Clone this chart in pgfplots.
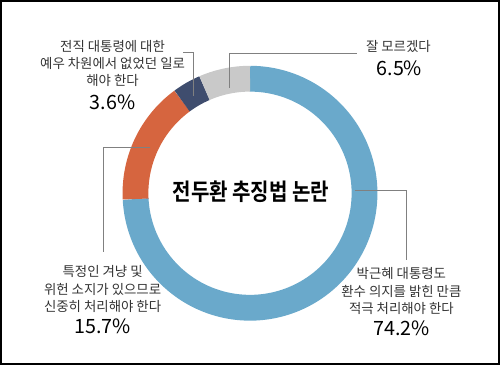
\documentclass[border=0pt]{standalone}
\usepackage{pgfplots}
\pgfplotsset{compat=1.18}
\usepackage{graphicx}
\usepackage{fontspec}
\setmainfont{Noto Sans CJK KR}[BoldFont={Noto Sans CJK KR Bold}]
\definecolor{cblue}{HTML}{6AA9CB}
\definecolor{cred}{HTML}{D6653F}
\definecolor{cnavy}{HTML}{3F4D6E}
\definecolor{cgray}{HTML}{C9C9C9}
\definecolor{lead}{HTML}{808080}
\definecolor{txt}{HTML}{333333}
% data (percent)
\def\vA{74.2}\def\vB{15.7}\def\vC{3.6}\def\vD{6.5}
\pgfmathsetmacro\aA{90-3.6*\vA}
\pgfmathsetmacro\aB{\aA-3.6*\vB}
\pgfmathsetmacro\aC{\aB-3.6*\vC}
\pgfmathsetmacro\aD{\aC-3.6*\vD}
\newcommand{\lab}{\fontsize{9.2}{11.4}\selectfont\color{txt}}
\newcommand{\pct}{\fontsize{13.5}{15}\selectfont\color{black}}
\begin{document}
\begin{tikzpicture}
\begin{axis}[width=12cm,height=8.736cm,scale only axis,hide axis,clip=false,
  xmin=0,xmax=500,ymin=0,ymax=364]
\addplot[cblue,line width=17.7pt,domain=\aA:90,samples=120,variable=\t] ({250+115*cos(\t)},{171+115*sin(\t)});
\addplot[cred,line width=17.7pt,domain=\aB:\aA,samples=40,variable=\t] ({250+115*cos(\t)},{171+115*sin(\t)});
\addplot[cnavy,line width=17.7pt,domain=\aC:\aB,samples=15,variable=\t] ({250+115*cos(\t)},{171+115*sin(\t)});
\addplot[cgray,line width=17.7pt,domain=\aD:\aC,samples=20,variable=\t] ({250+115*cos(\t)},{171+115*sin(\t)});
% leader lines
\draw[lead,line width=0.7pt] (axis cs:229,277) -- (axis cs:229,311) -- (axis cs:357,311);
\draw[lead,line width=0.7pt] (axis cs:183,312) -- (axis cs:193,312) -- (axis cs:193,269);
\draw[lead,line width=0.7pt] (axis cs:150,217) -- (axis cs:103,217) -- (axis cs:103,112);
\draw[lead,line width=0.7pt] (axis cs:355,174) -- (axis cs:407,174) -- (axis cs:407,104);
% labels
\node[align=center,anchor=base] at (axis cs:399,313) {\lab 잘 모르겠다};
\node[anchor=base] at (axis cs:400,289) {\pct 6.5\%};
\node[align=center,anchor=base] at (axis cs:112,313) {\lab 전직 대통령에 대한};
\node[align=center,anchor=base] at (axis cs:112,296) {\lab 예우 차원에서 없었던 일로};
\node[align=center,anchor=base] at (axis cs:112,279) {\lab 해야 한다};
\node[anchor=base] at (axis cs:112,255) {\pct 3.6\%};
\node[anchor=base] at (axis cs:102,87) {\lab 특정인 겨냥 및};
\node[anchor=base] at (axis cs:102,69) {\lab 위헌 소지가 있으므로};
\node[anchor=base] at (axis cs:102,52) {\lab 신중히 처리해야 한다};
\node[anchor=base] at (axis cs:102,30) {\pct 15.7\%};
\node[anchor=base] at (axis cs:402,85) {\lab 박근혜 대통령도};
\node[anchor=base] at (axis cs:402,67) {\lab 환수 의지를 밝힌 만큼};
\node[anchor=base] at (axis cs:402,50) {\lab 적극 처리해야 한다};
\node[anchor=base] at (axis cs:402,28) {\pct 74.2\%};
\node at (axis cs:251,172) {\scalebox{0.86}[1]{\fontsize{16}{18}\selectfont\bfseries 전두환 추징법 논란}};
\draw[black,line width=1.4pt] (rel axis cs:0,0) rectangle (rel axis cs:1,1);
\end{axis}
\end{tikzpicture}
\end{document}
